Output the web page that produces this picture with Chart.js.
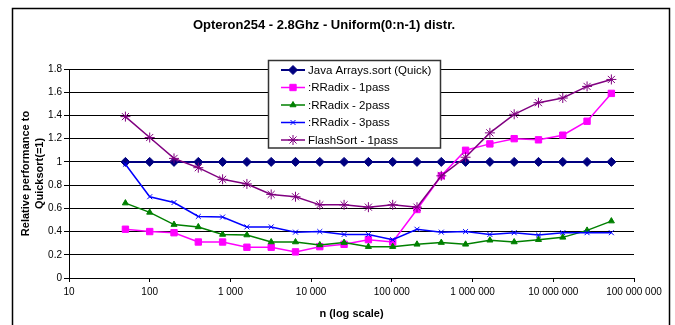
<!DOCTYPE html>
<html>
<head>
<meta charset="utf-8">
<script src="https://cdn.jsdelivr.net/npm/chart.js@4/dist/chart.umd.min.js"></script>
<style>
    html, body { margin: 0; padding: 0; background: #ffffff; }
    canvas { display: block; }
</style>
</head>
<body>
<canvas id="chart_canvas" width="675" height="325"></canvas>
<script>
// array sizes n (x values)
const sizes = [50, 100, 200, 400, 800, 1600, 3200, 6400, 12800, 25600, 51200,
    102400, 204800, 409600, 819200, 1638400, 3276800, 6553600, 13107200, 26214400, 52428800];

const java_quick = [1, 1, 1, 1, 1, 1, 1, 1, 1, 1, 1, 1, 1, 1, 1, 1, 1, 1, 1, 1, 1];
const rradix_1pass = [0.42, 0.40, 0.39, 0.31, 0.31, 0.265, 0.265, 0.225, 0.27, 0.29, 0.33,
    0.31, 0.59, 0.88, 1.10, 1.155, 1.20, 1.19, 1.23, 1.35, 1.59];
const rradix_2pass = [0.645, 0.565, 0.46, 0.44, 0.375, 0.37, 0.31, 0.31, 0.285, 0.305, 0.27,
    0.27, 0.29, 0.305, 0.29, 0.325, 0.31, 0.33, 0.35, 0.41, 0.49];
const rradix_3pass = [0.98, 0.70, 0.65, 0.53, 0.525, 0.44, 0.44, 0.395, 0.40, 0.375, 0.375,
    0.33, 0.42, 0.395, 0.40, 0.375, 0.39, 0.37, 0.39, 0.39, 0.39];
const flashsort_1pass = [1.39, 1.21, 1.03, 0.95, 0.85, 0.81, 0.72, 0.70, 0.63, 0.63, 0.61,
    0.63, 0.61, 0.88, 1.04, 1.25, 1.41, 1.51, 1.55, 1.65, 1.71];

const series_labels = ["Java Arrays.sort (Quick)", ":RRadix - 1pass", ":RRadix - 2pass",
    ":RRadix - 3pass", "FlashSort - 1pass"];
const x_ticks = [10, 100, 1000, 10000, 100000, 1000000, 10000000, 100000000];

const FONT = "'Liberation Sans', Arial, sans-serif";

function points(values) {
    return sizes.map((n, i) => ({ x: n, y: values[i] }));
}

function format_thousands(v) {
    return String(Math.round(v)).replace(/\B(?=(\d{3})+(?!\d))/g, " ");
}

function make_dataset(label, values, color, style, radius, width, order) {
    return {
        label: label,
        data: points(values),
        borderColor: color,
        backgroundColor: color,
        pointBackgroundColor: color,
        pointBorderColor: color,
        pointStyle: style,
        pointRadius: radius,
        pointBorderWidth: 1,
        borderWidth: width,
        tension: 0,
        order: order
    };
}

// outer frame of the chart object
const frame_plugin = {
    id: "frame",
    beforeDraw(chart) {
        const ctx = chart.ctx;
        ctx.save();
        ctx.fillStyle = "#ffffff";
        ctx.fillRect(0, 0, chart.width, chart.height);
        ctx.strokeStyle = "#000000";
        ctx.lineWidth = 1.5;
        ctx.strokeRect(12.5, 8.5, 657, 330);
        ctx.restore();
    }
};

// boxed legend sitting inside the plot area
const box_legend_plugin = {
    id: "box_legend",
    afterDatasetsDraw(chart) {
        const ctx = chart.ctx;
        const left = 268.5, top = 60.5, w = 172, h = 87.5;
        ctx.save();
        ctx.fillStyle = "#ffffff";
        ctx.fillRect(left, top, w, h);
        ctx.strokeStyle = "#333333";
        ctx.lineWidth = 1.5;
        ctx.strokeRect(left, top, w, h);

        ctx.font = "11.5px " + FONT;
        ctx.textBaseline = "middle";
        ctx.textAlign = "left";
        chart.data.datasets.forEach((ds, i) => {
            const y = 70 + i * 17.5;
            ctx.strokeStyle = ds.borderColor;
            ctx.lineWidth = ds.borderWidth;
            ctx.beginPath();
            ctx.moveTo(281, y);
            ctx.lineTo(305, y);
            ctx.stroke();
            if (Chart.helpers && Chart.helpers.drawPoint) {
                ctx.fillStyle = ds.pointBackgroundColor;
                ctx.strokeStyle = ds.pointBorderColor;
                ctx.lineWidth = ds.pointBorderWidth;
                Chart.helpers.drawPoint(ctx, {
                    pointStyle: ds.pointStyle,
                    radius: ds.pointRadius,
                    rotation: 0,
                    borderWidth: ds.pointBorderWidth
                }, 293, y);
            }
            ctx.fillStyle = "#000000";
            ctx.fillText(ds.label, 308, y + 0.5);
        });
        ctx.restore();
    }
};

const config = {
    type: "line",
    data: {
        datasets: [
            make_dataset(series_labels[0], java_quick, "#000080", "rectRot", 4.5, 2, 5),
            make_dataset(series_labels[1], rradix_1pass, "#ff00ff", "rect", 4.5, 1.5, 4),
            make_dataset(series_labels[2], rradix_2pass, "#008000", "triangle", 3.5, 1.5, 3),
            make_dataset(series_labels[3], rradix_3pass, "#0000ff", "crossRot", 3.5, 1.5, 2),
            make_dataset(series_labels[4], flashsort_1pass, "#800080", "star", 5, 1.5, 1)
        ]
    },
    options: {
        responsive: false,
        animation: false,
        events: [],
        layout: {
            padding: { left: 14, right: 41, top: 0, bottom: 0 }
        },
        plugins: {
            legend: { display: false },
            tooltip: { enabled: false },
            title: {
                display: true,
                text: "Opteron254 - 2.8Ghz - Uniform(0:n-1) distr.",
                color: "#000000",
                font: { family: FONT, size: 13, weight: "bold" },
                padding: { top: 18, bottom: 35.4 }
            }
        },
        scales: {
            x: {
                type: "logarithmic",
                min: 10,
                max: 100000000,
                afterBuildTicks(scale) {
                    scale.ticks = x_ticks.map(v => ({ value: v, major: true }));
                },
                afterFit(scale) {
                    scale.height = 47;
                },
                ticks: {
                    color: "#000000",
                    font: { family: FONT, size: 10 },
                    padding: 4,
                    maxRotation: 0,
                    autoSkip: false,
                    callback: (v) => format_thousands(v)
                },
                grid: {
                    drawOnChartArea: false,
                    drawTicks: true,
                    tickLength: 4,
                    color: "#000000"
                },
                border: { color: "#000000", width: 1 },
                title: {
                    display: true,
                    text: "n (log scale)",
                    color: "#000000",
                    font: { family: FONT, size: 11, weight: "bold" },
                    padding: { top: 0, bottom: 4 }
                }
            },
            y: {
                min: 0,
                max: 1.8,
                afterFit(scale) {
                    scale.width = 55;
                },
                ticks: {
                    stepSize: 0.2,
                    color: "#000000",
                    font: { family: FONT, size: 10 },
                    padding: 2,
                    callback: (v) => String(Number(v.toFixed(1)))
                },
                grid: {
                    color: "#000000",
                    lineWidth: 1,
                    drawTicks: true,
                    tickLength: 5
                },
                border: { color: "#000000", width: 1 },
                title: {
                    display: true,
                    text: ["Relative performance to", "Quicksort(=1)"],
                    color: "#000000",
                    font: { family: FONT, size: 11, weight: "bold", lineHeight: 1.25 },
                    padding: { top: 5, bottom: 0 }
                }
            }
        }
    },
    plugins: [frame_plugin, box_legend_plugin]
};

new Chart(document.getElementById("chart_canvas"), config);
</script>
</body>
</html>
